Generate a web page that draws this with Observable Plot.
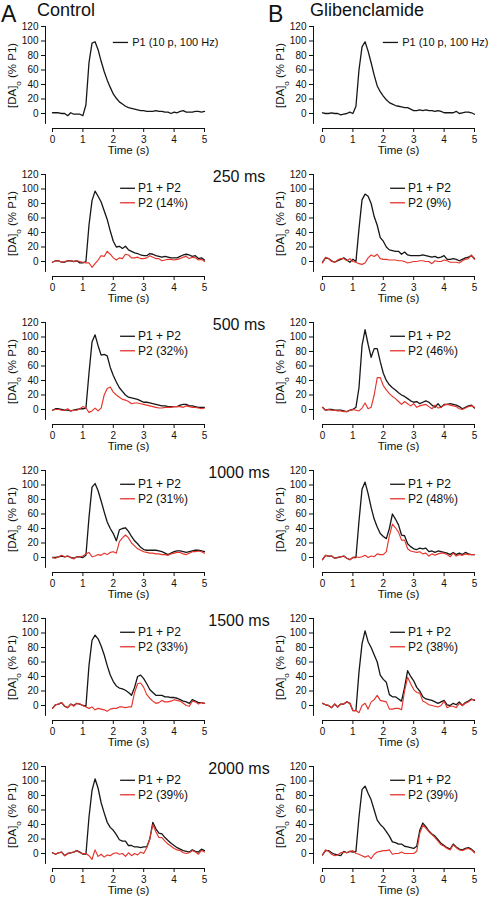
<!DOCTYPE html>
<html><head><meta charset="utf-8">
<script src="https://cdn.jsdelivr.net/npm/d3@7"></script>
<script src="https://cdn.jsdelivr.net/npm/@observablehq/plot@0.6"></script>
<style>
html,body{margin:0;padding:0;background:#fff;overflow:hidden;}
#root{position:relative;width:495px;height:900px;overflow:hidden;font-family:"Liberation Sans",Arial,sans-serif;color:#111;}
.t{position:absolute;white-space:nowrap;line-height:1.15;}
.p{position:absolute;}
</style></head><body><div id="root"></div>
<script>
// ---------- data ----------
const time = [0,0.1,0.2,0.3,0.4,0.5,0.6,0.7,0.8,0.9,1,1.1,1.2,1.3,1.4,1.5,1.6,1.7,1.8,1.9,2,2.1,2.2,2.3,2.4,2.5,2.6,2.7,2.8,2.9,3,3.1,3.2,3.3,3.4,3.5,3.6,3.7,3.8,3.9,4,4.1,4.2,4.3,4.4,4.5,4.6,4.7,4.8,4.9,5];
const xTicks = [0,1,2,3,4,5];
const yTicks = [0,20,40,60,80,100,120];
const columnTitles = ["Control","Glibenclamide"];
const panelLetters = ["A","B"];
const intervals = ["250 ms","500 ms","1000 ms","1500 ms","2000 ms"];
const p1Label = "P1 (10 p, 100 Hz)";
const sumLabel = "P1 + P2";
const ctrlP2Labels = ["P2 (14%)","P2 (32%)","P2 (31%)","P2 (33%)","P2 (39%)"];
const glibP2Labels = ["P2 (9%)","P2 (46%)","P2 (48%)","P2 (38%)","P2 (39%)"];
const yLabel = "[DA]o (% P1)";
const xLabel = "Time (s)";

const ctrlP1 = [1,1,1,0,0,-3,1,-1,-1,-1, -3,12,70,97,99,88,72,58,46,36, 27,21,16,13,10,8,7,6,5,4, 4,3,3,3,4,3,3,2,2,0, 2,1,3,4,2,2,2,3,3,2, 3];
const glibP1 = [1,0,0,1,0,0,-2,-1,0,2, 0,10,60,92,99,86,70,53,38,30, 24,19,15,13,11,10,9,8,8,6, 4,4,5,4,5,4,4,3,4,3, 1,1,1,1,3,0,1,2,2,1, -1];

const ctrl250Sum = [-1,1,1,-1,-1,1,1,0,1,-2, -2,0,50,84,97,90,82,70,58,42, 28,20,21,18,21,16,14,12,11,9, 8,8,11,10,8,7,6,7,6,5, 5,5,7,9,10,9,7,8,4,5, 2];
const ctrl250P2 = [-1,1,1,-1,0,1,1,0,1,0, -1,-2,-2,-8,-3,2,8,7,14,10, 5,2,5,4,10,9,5,5,6,4, 4,5,8,6,4,4,1,2,3,3, 2,3,4,6,7,4,6,5,2,3, 0];
const glib250Sum = [-1,5,4,1,-1,1,3,5,2,-1, 3,0,45,85,93,90,80,62,50,33, 28,20,16,15,14,14,10,13,9,8, 8,8,8,9,8,7,6,7,5,6, 8,3,3,4,3,1,3,5,6,8, 4];
const glib250P2 = [-2,6,4,0,-1,2,4,4,1,4, 0,-1,-3,-4,-2,5,9,7,10,4, 3,3,2,2,2,1,1,0,-2,-1, 0,0,1,1,0,0,-3,1,0,0, 2,1,-1,-1,-1,-2,1,3,4,9, 3];

const ctrl500Sum = [-1,1,1,0,-1,-1,-2,-1,0,1, 1,2,50,93,103,88,75,76,74,58, 47,38,30,25,20,17,16,15,14,12, 10,10,9,8,7,6,5,5,4,4, 4,4,6,7,7,5,5,4,3,3, 3];
const ctrl500P2 = [-1,0,0,-1,-1,1,-2,-1,-1,1, 4,2,-4,-2,2,-2,2,20,29,31, 24,20,17,14,13,11,8,9,9,8, 7,6,5,4,3,2,2,3,3,3, 4,4,4,3,5,4,3,3,2,1, 2];
const glib500Sum = [3,-1,0,0,-1,-1,-1,-2,-3,-1, 0,3,30,88,110,90,72,84,84,66, 50,40,34,30,27,23,20,18,15,12, 10,11,8,10,12,10,6,3,8,3, 7,7,8,7,6,4,1,3,5,6, 2];
const glib500P2 = [3,-1,0,-1,-1,-2,-2,-3,-3,-1, 0,-1,-2,2,9,1,3,20,44,44, 33,27,22,18,15,11,7,11,8,5, 8,3,5,6,7,4,1,6,2,3, 6,7,6,5,4,1,0,2,4,5, 3];

const ctrl1000Sum = [0,0,1,2,1,2,0,-1,1,1, 0,3,55,97,102,92,78,63,49,40, 33,23,38,40,41,36,29,23,19,14, 11,10,10,10,10,9,8,6,4,6, 8,9,9,8,7,8,9,10,10,9, 8];
const ctrl1000P2 = [0,-1,1,3,1,2,0,-2,1,1, 2,5,7,1,2,4,3,6,4,7, 8,6,22,27,31,27,20,16,12,10, 8,7,6,6,5,5,4,4,3,5, 6,7,7,5,4,6,8,8,9,8, 6];
const glib1000Sum = [-3,3,2,2,-1,0,1,2,-1,-3, 0,0,50,94,104,88,69,53,42,33, 29,26,40,60,53,45,31,30,19,15, 12,11,13,12,13,8,9,7,9,8, 7,6,4,7,4,6,4,7,5,4, 4];
const glib1000P2 = [-3,3,2,2,-1,0,1,2,-1,-3, 0,1,0,1,3,0,2,1,5,4, 4,8,30,46,41,35,24,24,12,9, 8,7,8,5,6,2,5,3,5,6, 6,4,1,6,2,4,3,5,4,4, 4];

const ctrl1500Sum = [-4,1,2,4,-1,-3,2,0,3,2, 0,-1,55,90,97,92,82,70,55,42, 33,27,24,23,21,18,14,25,40,42, 37,30,22,18,14,14,14,12,12,11, 11,10,8,6,5,3,8,6,4,4, 3];
const ctrl1500P2 = [-4,1,2,4,-1,-3,2,-1,3,2, 0,-2,-4,-2,-6,-4,-5,-6,-8,-5, -4,-4,-2,-2,-3,-2,-2,18,30,31, 25,15,10,6,3,4,7,5,5,6, 8,7,6,3,0,-1,6,5,2,4, 3];
const glib1500Sum = [3,1,0,-3,2,-2,2,2,5,3, -7,-7,46,85,103,88,80,70,60,42, 36,32,15,12,12,9,6,25,48,40, 34,25,20,12,9,8,7,5,3,5, 7,1,0,3,1,5,0,4,6,9, 7];
const glib1500P2 = [3,1,0,-3,2,-2,2,2,5,3, -7,-7,-10,0,3,-5,5,8,14,7, 6,5,-5,-5,-4,-4,-6,20,39,30, 22,18,17,6,4,1,0,-1,-2,0, 6,-3,-1,-1,-3,3,0,3,5,8, 8];

const ctrl2000Sum = [1,-1,1,2,-3,0,1,2,4,2, -1,-1,50,87,103,90,70,56,43,36, 32,26,19,17,17,11,11,9,9,8, 9,9,20,43,34,28,27,22,18,14, 11,8,6,4,3,2,5,3,2,6, 4];
const ctrl2000P2 = [1,-1,1,2,-3,0,1,2,4,1, 0,0,-3,-8,5,-4,-1,-5,-2,-3, 0,1,-1,0,-4,1,-3,0,-2,2, 0,8,20,40,30,22,22,17,13,10, 7,5,4,1,0,1,4,2,-1,4, 2];
const glib2000Sum = [-2,4,4,1,-1,-2,-3,3,1,3, 2,3,50,88,93,83,74,60,46,40, 36,30,24,16,15,13,13,10,9,8, 7,10,32,42,37,31,27,24,19,14, 11,8,6,13,9,6,5,7,8,6, 2];
const glib2000P2 = [-2,5,3,-1,-3,-2,1,2,1,3, 4,0,-1,-3,-5,-3,-7,-1,2,3, 4,4,5,-1,0,0,2,0,0,0, 0,3,28,39,35,30,26,22,17,12, 10,7,5,12,8,5,4,6,7,5, 1];

const ctrlSums = [ctrl250Sum, ctrl500Sum, ctrl1000Sum, ctrl1500Sum, ctrl2000Sum];
const ctrlP2s  = [ctrl250P2, ctrl500P2, ctrl1000P2, ctrl1500P2, ctrl2000P2];
const glibSums = [glib250Sum, glib500Sum, glib1000Sum, glib1500Sum, glib2000Sum];
const glibP2s  = [glib250P2, glib500P2, glib1000P2, glib1500P2, glib2000P2];

// ---------- layout / style ----------
const BLACK = "#161616", RED = "#e4342b";
const FONT = '"Liberation Sans", Arial, sans-serif';
const ROW_H = 148;
const X0PX = 52, X5PX = 204;        // pixel position of t=0 and t=5 inside a panel svg
const YMIN = -20.7;                  // value at the x-axis line
const YAXIS_LO = -15;                // lower end of y-axis line
const COLS = [{left:0,width:245,ml:45},{left:270,width:225,ml:43}];

const root = document.getElementById("root");
function addText(txt, left, top, size){
  const d = document.createElement("div");
  d.className = "t"; d.textContent = txt;
  d.style.left = left+"px"; d.style.top = top+"px"; d.style.fontSize = size+"px";
  root.appendChild(d); return d;
}
addText(panelLetters[0], 1, 1, 23);
addText(columnTitles[0], 37, 0, 18);
addText(panelLetters[1], 268, 1, 23);
addText(columnTitles[1], 310, 0, 18);
intervals.forEach((s,i)=>{
  const d = addText(s, 239, (i+1)*ROW_H + 35 - 15, 16);
  d.style.transform = "translateX(-50%)";
});

function makePanel(col, row, black, red, blackLabel, redLabel){
  const C = COLS[col];
  const pxPerSec = (X5PX - X0PX)/5;
  const xmin = -(X0PX - C.ml)/pxPerSec;
  const marks = [
    Plot.ruleX([xmin], {y1: YAXIS_LO, y2: 120, stroke: "#111", strokeWidth: 1}),
    Plot.ruleY([YMIN], {x1: 0, x2: 5, stroke: "#111", strokeWidth: 1}),
    Plot.axisY({ticks: yTicks, tickSize: 4, tickPadding: 3, label: null, fontSize: 10, tickFormat: d3.format("d")}),
    Plot.axisX({ticks: xTicks, tickSize: 4, tickPadding: 3, label: null, fontSize: 10, tickFormat: d3.format("d")}),
    Plot.line(time.map((t,i)=>({t, v: black[i]})), {x: "t", y: "v", stroke: BLACK, strokeWidth: 1.3}),
  ];
  if (red) marks.push(Plot.line(time.map((t,i)=>({t, v: red[i]})), {x: "t", y: "v", stroke: RED, strokeWidth: 1.15}));
  // legend
  const leg = row === 0 ? {x1: 2.0, x2: 2.5, tx: 2.62, y: [98], fs: 11} : {x1: 2.24, x2: 2.73, tx: 2.81, y: [101, 81], fs: 12};
  const items = [{label: blackLabel, color: BLACK, y: leg.y[0]}];
  if (red) items.push({label: redLabel, color: RED, y: leg.y[1]});
  marks.push(Plot.ruleY(items, {y: "y", x1: leg.x1, x2: leg.x2, stroke: "color", strokeWidth: 1.3}));
  marks.push(Plot.text(items, {x: leg.tx, y: "y", text: "label", textAnchor: "start", lineAnchor: "middle", fontSize: leg.fs, fill: "#111"}));
  // axis titles
  marks.push(Plot.text([yLabel], {x: xmin, y: (YAXIS_LO+120)/2, text: d=>d, dx: -33.5, rotate: -90, textAnchor: "middle", lineAnchor: "middle", fontSize: 11.5, fill: "#111"}));
  marks.push(Plot.text([xLabel], {x: 2.5, y: YMIN, text: d=>d, dy: 22, textAnchor: "middle", lineAnchor: "middle", fontSize: 11.5, fill: "#111"}));

  const svg = Plot.plot({
    width: C.width, height: ROW_H,
    marginLeft: C.ml, marginRight: C.width - X5PX, marginTop: 26, marginBottom: 20,
    x: {domain: [xmin, 5]},
    y: {domain: [YMIN, 120]},
    style: {fontFamily: FONT, fontSize: "10px", overflow: "visible", background: "transparent", color: "#111"},
    marks
  });
  d3.select(svg).selectAll("text").filter(function(){ return this.textContent === yLabel; }).each(function(){
    const t = d3.select(this);
    t.text(null);
    t.append("tspan").text("[DA]");
    t.append("tspan").attr("baseline-shift", "sub").attr("font-size", "70%").text("o");
    t.append("tspan").text(" (% P1)");
  });
  const wrap = document.createElement("div");
  wrap.className = "p";
  wrap.style.left = C.left + "px"; wrap.style.top = (row*ROW_H) + "px";
  wrap.appendChild(svg);
  root.appendChild(wrap);
}

makePanel(0, 0, ctrlP1, null, p1Label, null);
makePanel(1, 0, glibP1, null, p1Label, null);
for (let i = 0; i < 5; i++){
  makePanel(0, i+1, ctrlSums[i], ctrlP2s[i], sumLabel, ctrlP2Labels[i]);
  makePanel(1, i+1, glibSums[i], glibP2s[i], sumLabel, glibP2Labels[i]);
}
</script></body></html>
